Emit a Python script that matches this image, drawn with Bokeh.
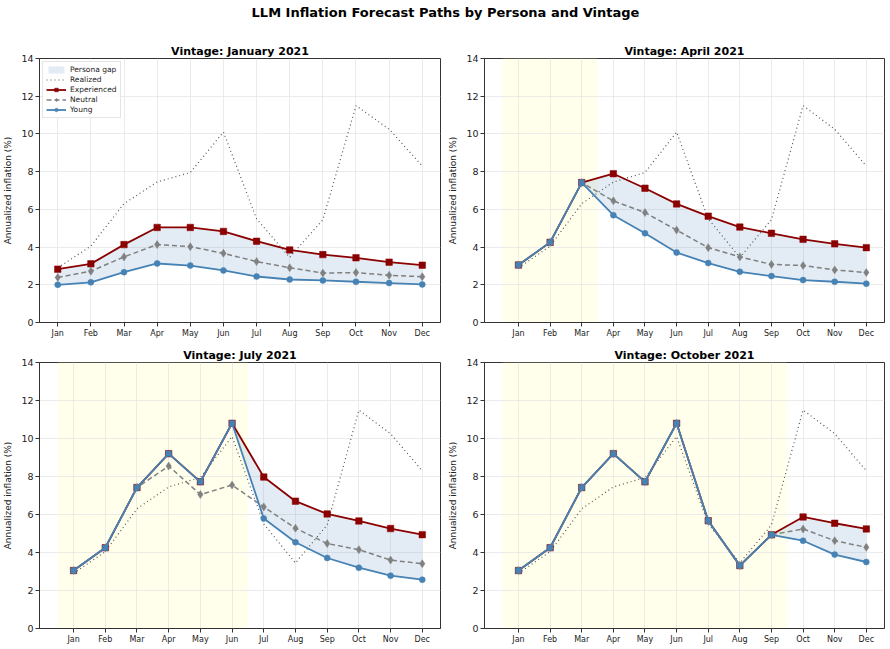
from bokeh.plotting import figure
from bokeh.layouts import column, row
from bokeh.models import (Range1d, FixedTicker, BoxAnnotation, Legend, LegendItem)
from bokeh.core.properties import value
from bokeh.embed import file_html
from bokeh.resources import INLINE

months = ["Jan", "Feb", "Mar", "Apr", "May", "Jun", "Jul", "Aug", "Sep", "Oct", "Nov", "Dec"]
realized = [2.9, 4.05, 6.3, 7.45, 7.95, 10.1, 5.5, 3.45, 5.45, 11.5, 10.25, 8.3]

vintages = ["January 2021", "April 2021", "July 2021", "October 2021"]
history_len = [0, 3, 6, 9]

exp_jan = [2.83, 3.11, 4.13, 5.04, 5.04, 4.83, 4.31, 3.85, 3.60, 3.43, 3.20, 3.04]
neu_jan = [2.39, 2.72, 3.48, 4.13, 4.02, 3.67, 3.23, 2.90, 2.62, 2.65, 2.50, 2.43]
yng_jan = [2.00, 2.13, 2.67, 3.13, 3.02, 2.76, 2.44, 2.28, 2.23, 2.16, 2.09, 2.02]

exp_apr = [3.05, 4.25, 7.42, 7.89, 7.12, 6.29, 5.64, 5.06, 4.73, 4.41, 4.17, 3.97]
neu_apr = [3.05, 4.25, 7.42, 6.45, 5.83, 4.90, 3.97, 3.48, 3.08, 3.02, 2.79, 2.65]
yng_apr = [3.05, 4.25, 7.42, 5.69, 4.73, 3.71, 3.15, 2.69, 2.46, 2.25, 2.16, 2.06]

exp_jul = [3.05, 4.25, 7.42, 9.20, 7.72, 10.80, 7.97, 6.70, 6.03, 5.66, 5.26, 4.94]
neu_jul = [3.05, 4.25, 7.42, 8.55, 7.05, 7.55, 6.40, 5.28, 4.47, 4.15, 3.60, 3.41]
yng_jul = [3.05, 4.25, 7.42, 9.20, 7.72, 10.80, 5.79, 4.54, 3.71, 3.20, 2.78, 2.57]

exp_oct = [3.05, 4.25, 7.42, 9.20, 7.72, 10.80, 5.67, 3.31, 4.93, 5.87, 5.54, 5.24]
neu_oct = [3.05, 4.25, 7.42, 9.20, 7.72, 10.80, 5.67, 3.31, 4.93, 5.24, 4.62, 4.27]
yng_oct = [3.05, 4.25, 7.42, 9.20, 7.72, 10.80, 5.67, 3.31, 4.93, 4.62, 3.89, 3.50]

experienced = [exp_jan, exp_apr, exp_jul, exp_oct]
neutral = [neu_jan, neu_apr, neu_jul, neu_oct]
young = [yng_jan, yng_apr, yng_jul, yng_oct]

FONT = "DejaVu Sans"
C_EXP = "#8B0000"
C_NEU = "#808080"
C_YNG = "#4682B4"
C_REAL = "#555555"
SPINE = "#333333"

# panel geometry: (width, height, left, right, top, bottom)
geoms = [
    (445, 300, 37, 5, 18, 14),
    (445, 300, 35, 6, 18, 14),
    (445, 309, 36, 5, 22, 21),
    (445, 309, 34, 6, 22, 21),
]


def make_panel(i):
    w, h, bl, br, bt, bb = geoms[i]
    n = history_len[i]
    x = list(range(12))
    if n == 0:
        xr = Range1d(-0.55, 11.55)
    else:
        xr = Range1d(-1.075, 11.575)
    p = figure(width=w, height=h, x_range=xr, y_range=Range1d(0, 14),
               output_backend="svg", toolbar_location=None,
               min_border_left=bl, min_border_right=br,
               min_border_top=bt, min_border_bottom=bb)
    p.title.text = "Vintage: " + vintages[i]
    p.title.align = "center"
    p.title.text_font = FONT
    p.title.text_font_size = "11px"
    p.title.text_font_style = "bold"
    p.title.text_color = "#000000"
    p.title.standoff = 2
    p.title.offset = 0

    p.outline_line_color = SPINE
    p.outline_line_width = 1
    p.background_fill_color = "white"
    p.border_fill_color = "white"

    p.xaxis.ticker = FixedTicker(ticks=x)
    p.xaxis.major_label_overrides = {k: m for k, m in enumerate(months)}
    p.yaxis.ticker = FixedTicker(ticks=[0, 2, 4, 6, 8, 10, 12, 14])
    for ax in (p.xaxis[0], p.yaxis[0]):
        ax.axis_line_color = SPINE
        ax.major_tick_line_color = SPINE
        ax.major_tick_out = 4
        ax.major_tick_in = 0
        ax.minor_tick_line_color = None
        ax.major_label_text_font = FONT
        ax.major_label_text_color = "#222222"
        ax.major_label_standoff = 2
    p.xaxis.major_label_text_font_size = "8px"
    p.yaxis.major_label_text_font_size = "9.5px"
    p.yaxis.axis_label = "Annualized inflation (%)"
    p.yaxis.axis_label_text_font = FONT
    p.yaxis.axis_label_text_font_size = "9px"
    p.yaxis.axis_label_text_font_style = "normal"
    p.yaxis.axis_label_text_color = "#222222"
    p.yaxis.axis_label_standoff = 5
    p.grid.grid_line_color = "#e6e6e6"
    p.grid.grid_line_width = 0.8

    if n > 0:
        p.add_layout(BoxAnnotation(left=-0.5, right=n - 0.5, fill_color="#FFFFE0",
                                   fill_alpha=0.6, line_color=None, level="image"))

    start = max(n - 1, 0)
    fx = x[start:]
    gap = p.varea(x=fx, y1=young[i][start:], y2=experienced[i][start:],
                  fill_color=C_YNG, fill_alpha=0.15)

    real = p.line(x, realized, line_color=C_REAL, line_width=1.2, line_dash="1 3")

    e_line = p.line(x, experienced[i], line_color=C_EXP, line_width=1.8)
    e_mark = p.scatter(x, experienced[i], marker="square", size=6.5, fill_color=C_EXP,
                       line_color=C_EXP, line_width=0.5)

    n_line = p.line(x, neutral[i], line_color=C_NEU, line_width=1.5, line_dash="5 3")
    n_mark = p.scatter(x, neutral[i], marker="diamond", size=8, fill_color=C_NEU,
                       line_color=C_NEU, line_width=0.5)

    y_line = p.line(x, young[i], line_color=C_YNG, line_width=1.8)
    hx = x[:n]
    if n > 0:
        p.scatter(hx, young[i][:n], marker="square", size=5.5, fill_color=C_YNG,
                  line_color=C_YNG, line_width=0.5)
    cstart = n
    y_mark = p.scatter(x[cstart:], young[i][cstart:], marker="circle", size=6,
                       fill_color=C_YNG, line_color=C_YNG, line_width=0.5)

    if i == 0:
        legend = Legend(items=[
            LegendItem(label="Persona gap", renderers=[gap]),
            LegendItem(label="Realized", renderers=[real]),
            LegendItem(label="Experienced", renderers=[e_line, e_mark]),
            LegendItem(label="Neutral", renderers=[n_line, n_mark]),
            LegendItem(label="Young", renderers=[y_line, y_mark]),
        ], location="top_left")
        legend.label_text_font = FONT
        legend.label_text_font_size = "7.5px"
        legend.label_text_color = "#222222"
        legend.glyph_width = 20
        legend.glyph_height = 9
        legend.label_height = 9
        legend.label_standoff = 4
        legend.spacing = 1
        legend.padding = 3
        legend.margin = 3
        legend.border_line_color = "#cccccc"
        legend.border_line_width = 0.8
        legend.background_fill_alpha = 0.85
        p.add_layout(legend)
    return p


panels = [make_panel(i) for i in range(4)]

tp = figure(width=890, height=40, x_range=Range1d(0, 1), y_range=Range1d(0, 1),
            output_backend="svg", toolbar_location=None,
            min_border_left=0, min_border_right=0, min_border_top=0, min_border_bottom=0)
tp.axis.visible = False
tp.grid.visible = False
tp.outline_line_color = None
tp.text(x=[0.5], y=[0.70], text=["LLM Inflation Forecast Paths by Persona and Vintage"],
        text_font=value(FONT), text_font_size="13px", text_font_style="bold",
        text_align="center", text_baseline="middle", text_color="#000000")

layout = column(tp, row(panels[0], panels[1]), row(panels[2], panels[3]))

open("out.html", "w").write(file_html(layout, INLINE))
